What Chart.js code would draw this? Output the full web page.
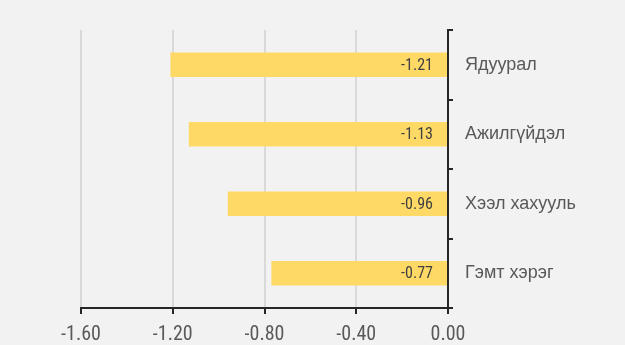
<!DOCTYPE html>
<html>
<head>
<meta charset="utf-8">
<script src="https://cdn.jsdelivr.net/npm/chart.js@4/dist/chart.umd.min.js"></script>
<style>
  html, body { margin: 0; padding: 0; background: #f2f2f2; }
  #wrap { width: 625px; height: 345px; }
</style>
</head>
<body>
<div id="wrap"><canvas id="c"></canvas></div>
<script>
// Өгөгдөл
const categories = ["Ядуурал", "Ажилгүйдэл", "Хээл хахууль", "Гэмт хэрэг"];
const values = [-1.21, -1.13, -0.96, -0.77];
const xTicks = [-1.6, -1.2, -0.8, -0.4, 0];

const narrow = "'Roboto Condensed', 'Liberation Sans Narrow', 'DejaVu Sans Condensed', sans-serif";

// утгын шошго баганын баруун үзүүрт
const valueLabels = {
  id: "valueLabels",
  afterDatasetsDraw(chart) {
    const ctx = chart.ctx;
    const zero = chart.scales.x.getPixelForValue(0);
    ctx.save();
    ctx.font = "16px " + narrow;
    ctx.fillStyle = "#404040";
    ctx.textAlign = "right";
    ctx.textBaseline = "middle";
    chart.getDatasetMeta(0).data.forEach((bar, i) => {
      ctx.fillText(values[i].toFixed(2), zero - 15, bar.y + 1);
    });
    ctx.restore();
  }
};

new Chart(document.getElementById("c"), {
  type: "bar",
  data: {
    labels: categories,
    datasets: [{
      data: values,
      backgroundColor: "#ffd966",
      borderWidth: 0,
      categoryPercentage: 1,
      barPercentage: 0.35
    }]
  },
  options: {
    indexAxis: "y",
    responsive: true,
    maintainAspectRatio: false,
    animation: false,
    layout: { padding: { top: 30, left: 81, right: 0, bottom: 0 } },
    scales: {
      x: {
        min: -1.6,
        max: 0,
        afterBuildTicks: (s) => { s.ticks = xTicks.map(v => ({ value: v })); },
        afterFit: (s) => { s.height = 37; },
        ticks: {
          color: "#595959",
          font: { family: narrow, size: 20 },
          padding: 9,
          maxRotation: 0,
          callback: (v) => Number(v).toFixed(2)
        },
        grid: {
          color: "#d9d9d9",
          lineWidth: 2,
          tickColor: "#262626",
          tickLength: 6
        },
        border: { display: true, color: "#262626", width: 2 }
      },
      y: {
        position: "right",
        afterFit: (s) => { s.width = 177; },
        ticks: {
          color: "#595959",
          font: { family: "'Liberation Sans', Arial, sans-serif", size: 18 },
          padding: 12
        },
        grid: {
          drawOnChartArea: false,
          color: "#262626",
          lineWidth: 2,
          tickLength: 5
        },
        border: { display: true, color: "#262626", width: 2 }
      }
    },
    plugins: {
      legend: { display: false },
      tooltip: { enabled: false }
    }
  },
  plugins: [valueLabels]
});
</script>
</body>
</html>
